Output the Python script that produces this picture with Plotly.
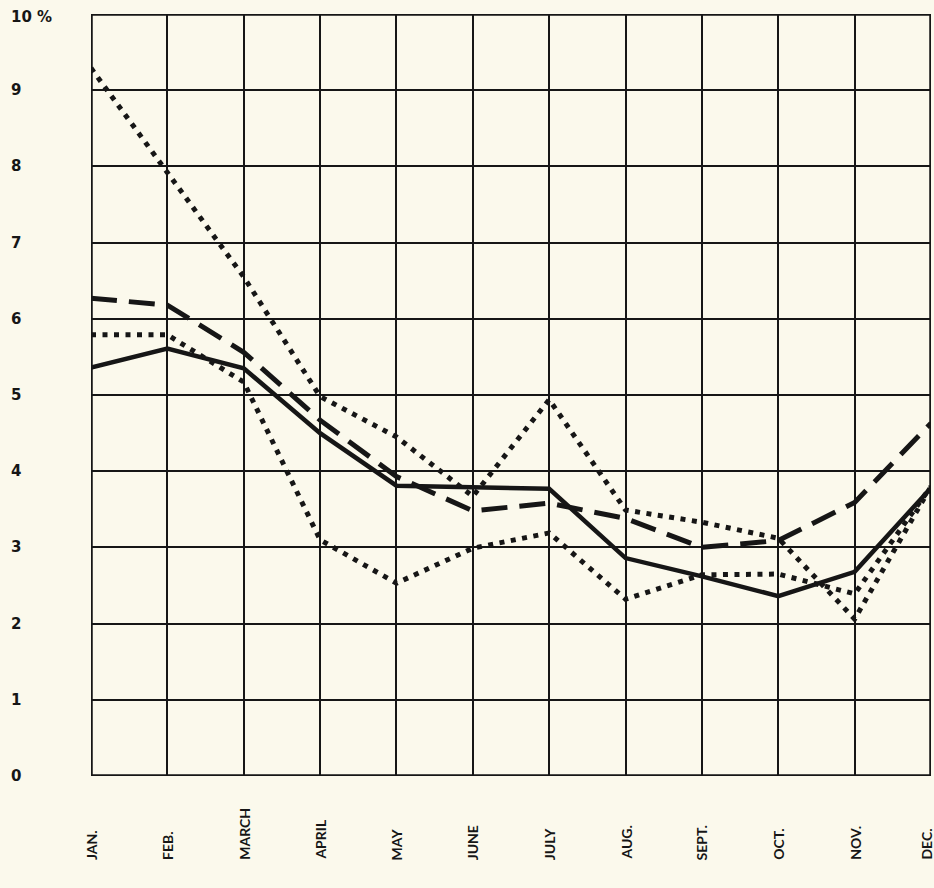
import plotly.graph_objects as go

months = ["JAN.", "FEB.", "MARCH", "APRIL", "MAY", "JUNE", "JULY", "AUG.", "SEPT.", "OCT.", "NOV.", "DEC."]
y_ticks = [0, 1, 2, 3, 4, 5, 6, 7, 8, 9, 10]
y_tick_labels = ["0", "1", "2", "3", "4", "5", "6", "7", "8", "9", "10 %"]

solid_vals = [5.36, 5.61, 5.35, 4.50, 3.81, 3.79, 3.77, 2.86, 2.62, 2.36, 2.68, 3.78]
dashed_vals = [6.27, 6.18, 5.56, 4.67, 3.93, 3.48, 3.58, 3.38, 3.00, 3.09, 3.59, 4.63]
dotted_upper_vals = [9.29, 7.93, 6.55, 4.98, 4.45, 3.67, 4.94, 3.49, 3.33, 3.12, 2.06, 3.80]
dotted_lower_vals = [5.79, 5.79, 5.17, 3.10, 2.53, 2.99, 3.19, 2.32, 2.64, 2.65, 2.39, 3.80]

BG = "#FBF9EC"
INK = "#161616"
FONT = "Lato"
YFONT = "DejaVu Sans"

x = list(range(len(months)))

fig = go.Figure()
fig.add_trace(go.Scatter(x=x, y=dotted_upper_vals, mode="lines",
                         line=dict(color=INK, width=5, dash="5px,6.5px")))
fig.add_trace(go.Scatter(x=x, y=dotted_lower_vals, mode="lines",
                         line=dict(color=INK, width=5, dash="5px,6.5px")))
fig.add_trace(go.Scatter(x=x, y=dashed_vals, mode="lines",
                         line=dict(color=INK, width=5, dash="26px,12px")))
fig.add_trace(go.Scatter(x=x, y=solid_vals, mode="lines",
                         line=dict(color=INK, width=4.5)))

# frame
fig.add_shape(type="rect", xref="x", yref="y", x0=0, x1=len(months) - 1, y0=0, y1=10,
              line=dict(color=INK, width=3.5), layer="below")

annotations = []
for v, lab in zip(y_ticks, y_tick_labels):
    annotations.append(dict(
        x=-0.098, y=v, xref="paper", yref="y", text=lab, showarrow=False,
        xanchor="left", yanchor="middle", yshift=(-3 if v == 10 else 0),
        font=dict(family=YFONT, size=15, color=INK, weight="bold")))
for i, m in enumerate(months):
    annotations.append(dict(
        x=i, y=-0.1129, xref="x", yref="paper", text=m, showarrow=False,
        textangle=-90, xanchor="center", yanchor="bottom",
        xshift=(-4 if i == len(months) - 1 else 0),
        font=dict(family=FONT, size=14, color=INK, weight="bold")))

fig.update_layout(
    width=934, height=888,
    margin=dict(l=91, r=3, t=14, b=112),
    paper_bgcolor=BG, plot_bgcolor=BG,
    showlegend=False,
    annotations=annotations,
    xaxis=dict(range=[0, len(months) - 1], tickvals=x, showticklabels=False,
               showgrid=True, gridcolor=INK, gridwidth=2, zeroline=False,
               showline=False, fixedrange=True),
    yaxis=dict(range=[0, 10], tickvals=y_ticks, showticklabels=False,
               showgrid=True, gridcolor=INK, gridwidth=2, zeroline=False,
               showline=False, fixedrange=True),
)

fig.write_html("out.html", config={"displayModeBar": False},
               post_script="document.body.style.margin='0';document.body.style.background='" + BG + "';")
